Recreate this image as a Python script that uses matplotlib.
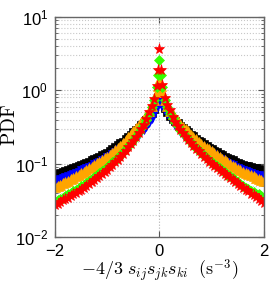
import numpy as np
import matplotlib
matplotlib.use("Agg")
import matplotlib.pyplot as plt
from matplotlib.ticker import LogLocator, NullFormatter

plt.rcParams['mathtext.fontset'] = 'cm'
plt.rcParams['font.family'] = ['Liberation Sans', 'DejaVu Sans']

# bin centres: -2.00..-0.05, -0.02, 0, 0.02, 0.05..2.00
x = np.concatenate([np.round(np.arange(-2.0, -0.04, 0.05), 2),
                    [-0.02, 0.0, 0.02],
                    np.round(np.arange(0.05, 2.01, 0.05), 2)])

pdf_black = [0.070, 0.072, 0.075, 0.077, 0.080, 0.082, 0.085, 0.087, 0.090, 0.093,
             0.096, 0.099, 0.103, 0.107, 0.111, 0.115, 0.120, 0.125, 0.130, 0.136,
             0.142, 0.150, 0.158, 0.167, 0.178, 0.19, 0.20, 0.215, 0.23, 0.25,
             0.27, 0.29, 0.31, 0.335, 0.36, 0.39, 0.43, 0.49, 0.56, 0.68,
             0.80, 0.90, 0.80,
             0.70, 0.58, 0.51, 0.45, 0.41, 0.38, 0.355, 0.33, 0.31, 0.29,
             0.27, 0.25, 0.235, 0.22, 0.207, 0.195, 0.185, 0.175, 0.166, 0.158,
             0.150, 0.143, 0.136, 0.130, 0.125, 0.120, 0.115, 0.111, 0.107, 0.103,
             0.100, 0.097, 0.094, 0.092, 0.090, 0.088, 0.086, 0.084, 0.082, 0.080]

pdf_blue = [0.058, 0.060, 0.062, 0.064, 0.066, 0.068, 0.070, 0.072, 0.075, 0.078,
            0.081, 0.084, 0.087, 0.090, 0.094, 0.098, 0.102, 0.107, 0.112, 0.117,
            0.123, 0.129, 0.136, 0.144, 0.152, 0.161, 0.17, 0.18, 0.19, 0.205,
            0.22, 0.235, 0.25, 0.27, 0.29, 0.32, 0.36, 0.41, 0.48, 0.58,
            0.72, 0.85, 0.72,
            0.60, 0.52, 0.47, 0.43, 0.37, 0.33, 0.30, 0.27, 0.25, 0.235,
            0.22, 0.205, 0.193, 0.182, 0.172, 0.163, 0.155, 0.148, 0.141, 0.134,
            0.128, 0.122, 0.117, 0.112, 0.107, 0.103, 0.099, 0.095, 0.091, 0.088,
            0.085, 0.082, 0.079, 0.077, 0.075, 0.073, 0.071, 0.069, 0.067, 0.066]

pdf_orange = [0.048, 0.050, 0.052, 0.054, 0.056, 0.058, 0.061, 0.064, 0.067, 0.070,
              0.074, 0.078, 0.082, 0.086, 0.091, 0.096, 0.101, 0.106, 0.112, 0.118,
              0.125, 0.133, 0.142, 0.152, 0.162, 0.175, 0.19, 0.21, 0.23, 0.255,
              0.28, 0.31, 0.34, 0.37, 0.41, 0.46, 0.52, 0.61, 0.73, 0.95,
              1.15, 1.40, 1.15,
              0.95, 0.74, 0.62, 0.53, 0.47, 0.42, 0.38, 0.35, 0.32, 0.30,
              0.275, 0.25, 0.23, 0.215, 0.20, 0.187, 0.176, 0.166, 0.157, 0.148,
              0.139, 0.131, 0.124, 0.117, 0.111, 0.105, 0.099, 0.094, 0.089, 0.085,
              0.081, 0.078, 0.075, 0.072, 0.069, 0.067, 0.064, 0.062, 0.060, 0.058]

pdf_green = [0.030, 0.0315, 0.033, 0.0345, 0.036, 0.038, 0.040, 0.042, 0.044, 0.0465,
             0.049, 0.052, 0.055, 0.058, 0.062, 0.066, 0.070, 0.074, 0.079, 0.084,
             0.090, 0.097, 0.104, 0.112, 0.121, 0.131, 0.143, 0.157, 0.172, 0.19,
             0.21, 0.24, 0.27, 0.31, 0.35, 0.40, 0.48, 0.59, 0.75, 1.10,
             1.60, 2.60, 1.60,
             1.10, 0.75, 0.59, 0.49, 0.42, 0.37, 0.325, 0.29, 0.26, 0.235,
             0.215, 0.195, 0.18, 0.165, 0.152, 0.14, 0.13, 0.12, 0.112, 0.105,
             0.098, 0.092, 0.086, 0.081, 0.076, 0.071, 0.067, 0.063, 0.059, 0.056,
             0.053, 0.050, 0.047, 0.045, 0.043, 0.041, 0.039, 0.038, 0.036, 0.035]

pdf_red = [0.027, 0.0285, 0.030, 0.0315, 0.033, 0.0345, 0.036, 0.038, 0.040, 0.042,
           0.044, 0.047, 0.050, 0.053, 0.056, 0.060, 0.064, 0.068, 0.073, 0.078,
           0.083, 0.090, 0.097, 0.105, 0.114, 0.125, 0.137, 0.151, 0.167, 0.185,
           0.205, 0.23, 0.26, 0.295, 0.34, 0.41, 0.50, 0.62, 0.76, 1.15,
           1.90, 3.70, 1.90,
           1.20, 0.78, 0.64, 0.54, 0.44, 0.37, 0.325, 0.29, 0.26, 0.23,
           0.21, 0.19, 0.175, 0.16, 0.147, 0.135, 0.125, 0.115, 0.107, 0.100,
           0.094, 0.088, 0.082, 0.077, 0.072, 0.068, 0.064, 0.060, 0.056, 0.053,
           0.050, 0.047, 0.044, 0.042, 0.039, 0.037, 0.035, 0.033, 0.031, 0.029]

series = [
    (pdf_black, 'k', 's', 5.5),
    (pdf_blue, '#0000ff', 'v', 6),
    (pdf_orange, '#ffa500', '^', 6.5),
    (pdf_green, '#33ff00', 'D', 5.5),
    (pdf_red, '#ff0000', '*', 8),
]

fig = plt.figure(figsize=(2.74, 2.84), dpi=100)
ax = fig.add_axes([0.2007, 0.1655, 0.7628, 0.7745])

for vals, col, mk, ms in series:
    ax.plot(x, vals, linestyle='none', marker=mk, color=col, markersize=ms,
            markeredgewidth=0.5)

ax.set_yscale('log')
ax.set_xlim(-2, 2)
ax.set_ylim(1e-2, 1e1)
ax.set_xticks([-2, 0, 2])
ax.set_xticklabels(['\u22122', '0', '2'])
ax.yaxis.set_major_locator(LogLocator(base=10, numticks=10))
ax.yaxis.set_minor_locator(LogLocator(base=10, subs=np.arange(2, 10), numticks=20))
ax.yaxis.set_minor_formatter(NullFormatter())

ax.grid(True, which='major', linestyle=':', color='#b0b0b0', linewidth=0.8)
ax.grid(True, which='minor', axis='y', linestyle=':', color='#c8c8c8', linewidth=0.8)
ax.tick_params(which='both', direction='in', top=True, right=True, labelsize=12,
               color='#555555', pad=5)
ax.tick_params(which='major', length=4)
ax.tick_params(which='minor', length=2)
for s in ax.spines.values():
    s.set_color('#666666')
    s.set_linewidth(1.0)

ax.set_ylabel(r'$\mathrm{PDF}$', fontsize=14)
ax.yaxis.set_label_coords(-0.17, 0.51)
ax.set_xlabel(r'$-4/3\ s_{ij}s_{jk}s_{ki}\ \ (\mathrm{s}^{-3})$', fontsize=13, labelpad=-1)

fig.savefig('out.png', dpi=100)
